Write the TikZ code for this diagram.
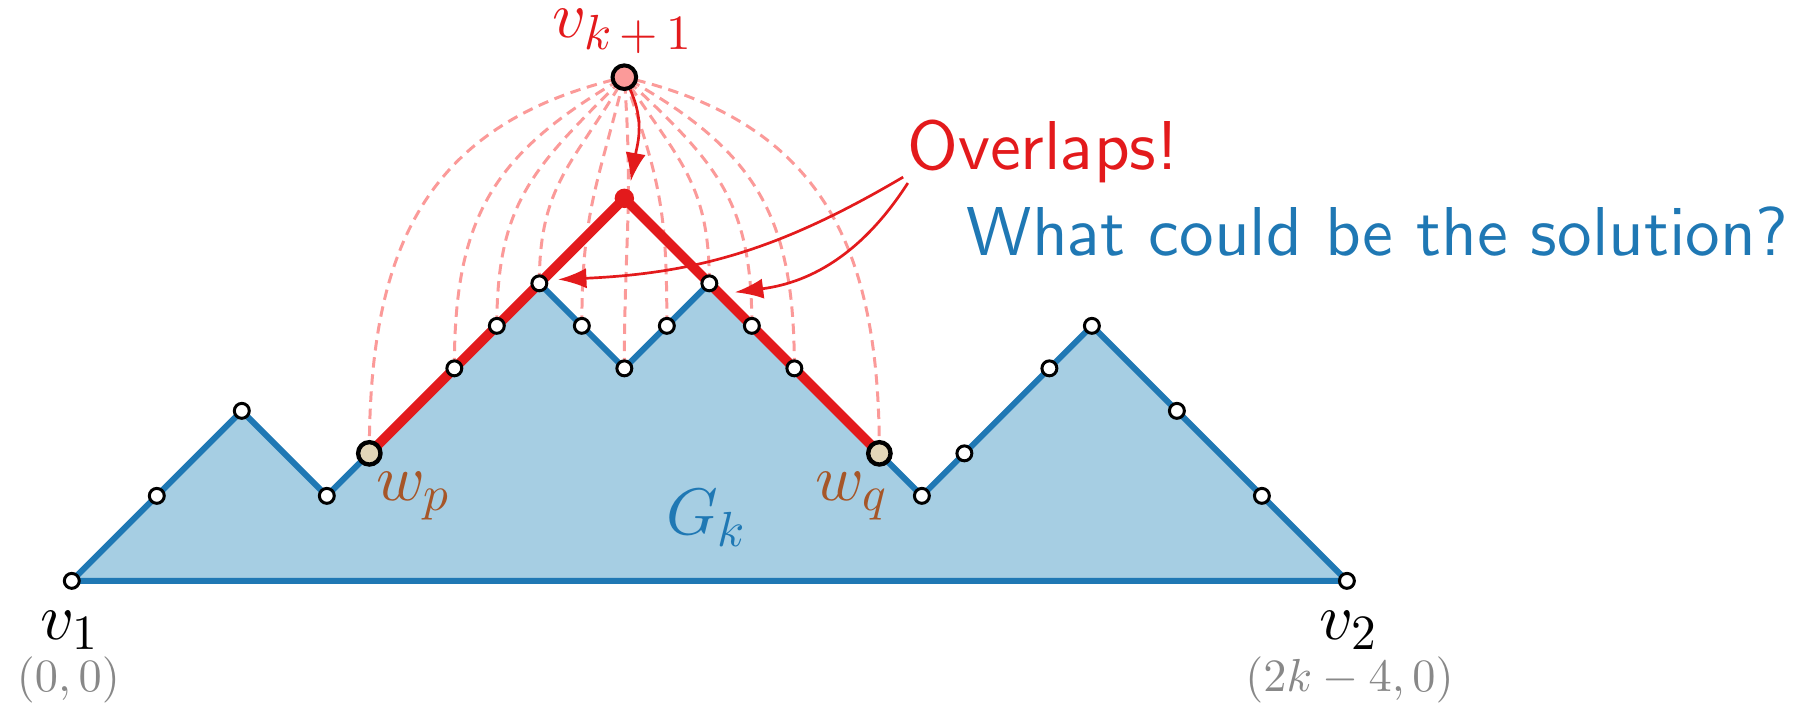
\documentclass[tikz,border=0pt]{standalone}
\DeclareFontShape{OML}{cmm}{m}{it}{<->cmmi10}{}
\DeclareFontShape{OT1}{cmr}{m}{n}{<->cmr10}{}
\DeclareFontShape{OMS}{cmsy}{m}{n}{<->cmsy10}{}
\DeclareFontFamily{OT1}{cmss}{}
\DeclareFontShape{OT1}{cmss}{m}{n}{<->cmss10}{}
\DeclareMathSizes{44}{44}{33}{22}
\newcommand{\cmssfont}{\usefont{OT1}{cmss}{m}{n}}
\usetikzlibrary{arrows.meta}
\definecolor{lblue}{HTML}{A6CEE3}
\definecolor{dblue}{HTML}{1F78B4}
\definecolor{dred}{HTML}{E31A1C}
\definecolor{lred}{HTML}{FB9A99}
\definecolor{wpfill}{HTML}{E3D6B8}
\definecolor{brownlbl}{HTML}{A65628}
\definecolor{graylbl}{HTML}{888888}
\begin{document}
\begin{tikzpicture}[x=1cm,y=1cm,
  vtx/.style={circle,draw=black,fill=white,line width=2pt,minimum size=10pt,inner sep=0pt},
  bigvtx/.style={circle,draw=black,fill=wpfill,line width=2.9pt,minimum size=15pt,inner sep=0pt},
  topvtx/.style={circle,draw=black,fill=lred,line width=2.7pt,minimum size=15.8pt,inner sep=0pt},
  edgeline/.style={dblue,line width=4pt,line join=round},
  redpath/.style={dred,line width=6.5pt,line join=round},
  fanarc/.style={lred,line width=2pt,dash pattern=on 7pt off 4.5pt,looseness=1.15},
  callout/.style={dred,line width=1.8pt,-{Latex[length=19pt,width=13.5pt]}},
  bigmath/.style={font=\fontsize{44}{50}\selectfont,inner sep=0pt},
  coordlbl/.style={font=\fontsize{31}{36}\selectfont,text=graylbl,inner sep=0pt},
  bigtext/.style={font=\fontsize{46.3}{52}\cmssfont,inner sep=0pt}
]
\useasboundingbox (-1.689,-2.852) rectangle (40.66,13.666);
\foreach \n/\x/\y in {0/0/0,1/2/2,2/4/4,3/6/2,4/7/3,5/9/5,6/10/6,7/11/7,8/12/6,9/13/5,10/14/6,11/15/7,12/16/6,13/17/5,14/19/3,15/20/2,16/21/3,17/23/5,18/24/6,19/26/4,20/28/2,21/30/0}
  \coordinate (c\n) at (\x,\y);
\coordinate (apex) at (13,9);
\coordinate (vkc) at (13,11.85);
\fill[lblue] (c0) -- (c1) -- (c2) -- (c3) -- (c4) -- (c5) -- (c6) -- (c7) -- (c8) -- (c9) -- (c10) -- (c11) -- (c12) -- (c13) -- (c14) -- (c15) -- (c16) -- (c17) -- (c18) -- (c19) -- (c20) -- (c21) -- cycle;
\draw[edgeline] (c0) -- (c1) -- (c2) -- (c3) -- (c4) -- (c5) -- (c6) -- (c7) -- (c8) -- (c9) -- (c10) -- (c11) -- (c12) -- (c13) -- (c14) -- (c15) -- (c16) -- (c17) -- (c18) -- (c19) -- (c20) -- (c21) -- cycle;
\foreach \n/\a in {4/193,5/210,6/225,7/240,8/256,9/274,10/289,11/303,12/317,13/331,14/347}
  \draw[fanarc] (c\n) to[out=90,in=\a] (vkc);
\draw[redpath] (c4) -- (apex) -- (c14);
\node[circle,fill=dred,minimum size=13pt,inner sep=0pt] (apexdot) at (apex) {};
\foreach \n in {0,1,2,3,5,6,7,8,9,10,11,12,13,15,16,17,18,19,20,21}
  \node[vtx] (n\n) at (c\n) {};
\node[bigvtx] (wp) at (c4) {};
\node[bigvtx] (wq) at (c14) {};
\node[topvtx] (vk) at (vkc) {};
% labels
\node[bigmath,anchor=base west] (v1lbl) at (-0.75,-1.39) {$v_1$};
\node[coordlbl,anchor=base] (v1co) at (-0.08,-2.6) {$(0,0)$};
\node[bigmath,anchor=base west] (v2lbl) at (29.35,-1.39) {$v_2$};
\node[coordlbl,anchor=base] (v2co) at (30.06,-2.6) {$(2k-4,0)$};
\node[bigmath,anchor=base west,text=dred] (vklbl) at (11.3,12.78) {$v_{k\mskip3mu+\mskip3mu1}$};
\node[bigmath,anchor=base west,text=brownlbl] (wplbl) at (7.16,1.88) {$w_p$};
\node[bigmath,anchor=base west,text=brownlbl] (wqlbl) at (17.5,1.88) {$w_q$};
\node[bigmath,anchor=base west,text=dblue] (gklbl) at (13.98,1.08) {$G_k$};
\node[bigtext,anchor=base west,text=dred] (ovl) at (19.65,9.68) {Overlaps!};
\node[bigtext,anchor=base west,text=dblue] (sol) at (21.05,7.66) {What could be the solution?};
% arrows
\coordinate (o1) at (19.56,9.5);
\coordinate (o2) at (19.67,9.36);
\coordinate (t1) at (11.44,7.09);
\coordinate (t2) at (15.6,6.79);
\coordinate (t0) at (13.15,9.4);
\draw[callout] (o1) to[bend left=14] (t1);
\draw[callout] (o2) to[bend left=25] (t2);
\draw[callout] (vk) to[out=-65,in=80] (t0);
\end{tikzpicture}
\end{document}
